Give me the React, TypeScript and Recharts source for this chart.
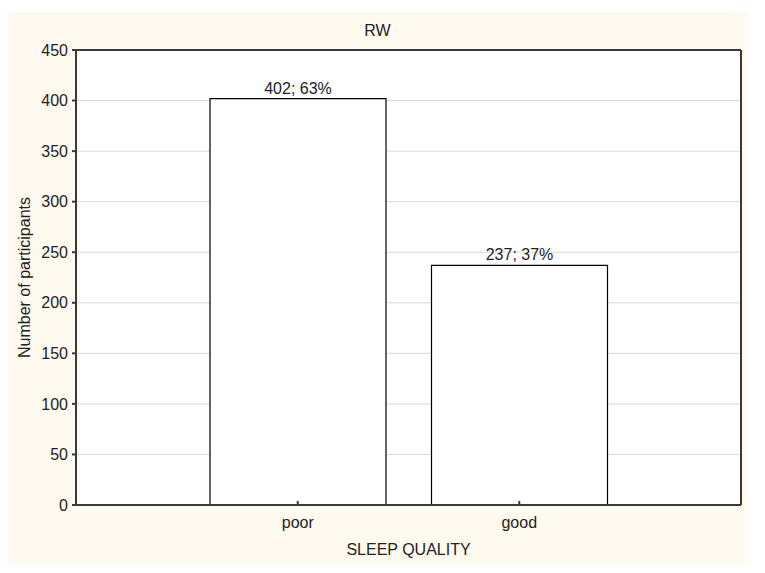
import React from 'react';
import { ComposedChart, Bar, XAxis, YAxis, CartesianGrid, LabelList, Label } from 'recharts';

const categories = ['poor', 'good'];
const counts = [402, 237];
const percents = [63, 37];
const yTicks = [0, 50, 100, 150, 200, 250, 300, 350, 400, 450];

const data = categories.map((c, i) => ({ name: c, value: counts[i], pct: percents[i] }));

const FONT = '"Liberation Sans", Arial, sans-serif';
const AXIS = '#3a3a3a';
const FS = 16;

export default function App() {
  return (
    <div style={{ position: 'relative', marginTop: 4, width: 739, height: 551, background: '#FFFAF0', fontFamily: FONT }}>
      <div style={{ position: 'absolute', left: 0, width: 739, top: 10, lineHeight: '18px', textAlign: 'center', fontSize: FS, color: '#222', fontFamily: FONT }}>RW</div>
      <ComposedChart
        width={739}
        height={551}
        data={data}
        margin={{ top: 37, right: 6, bottom: 0, left: 0 }}
        style={{ position: 'absolute', left: 0, top: 0 }}
      >
        <CartesianGrid vertical={false} stroke="#d9d9d9" fill="#ffffff" />
        <XAxis
          dataKey="name"
          type="category"
          padding={{ left: 111, right: 111 }}
          height={58}
          stroke={AXIS}
          strokeWidth={2}
          tickSize={-4}
          tickMargin={16}
          tick={{ fill: '#222', fontSize: FS, fontFamily: FONT }}
        >
          <Label
            content={({ viewBox }: any) => (
              <text x={viewBox.x + viewBox.width / 2} y={viewBox.y + 50} textAnchor="middle" fill="#222" fontSize={FS} fontFamily={FONT}>
                SLEEP QUALITY
              </text>
            )}
          />
        </XAxis>
        <XAxis xAxisId="top" orientation="top" dataKey="name" height={1} stroke={AXIS} strokeWidth={2} tick={false} tickLine={false} />
        <YAxis
          domain={[0, 450]}
          ticks={yTicks}
          width={68}
          stroke={AXIS}
          strokeWidth={2}
          tickSize={4}
          tickMargin={4}
          tick={{ fill: '#222', fontSize: FS, fontFamily: FONT }}
          interval={0}
        >
          <Label
            content={({ viewBox }: any) => {
              const cx = 16;
              const cy = viewBox.y + viewBox.height / 2;
              return (
                <text x={cx} y={cy} transform={`rotate(-90, ${cx}, ${cy})`} textAnchor="middle" dominantBaseline="central" fill="#222" fontSize={FS} fontFamily={FONT}>
                  Number of participants
                </text>
              );
            }}
          />
        </YAxis>
        <YAxis
          yAxisId="right"
          orientation="right"
          domain={[0, 450]}
          ticks={yTicks}
          width={1}
          mirror
          stroke={AXIS}
          strokeWidth={2}
          tickSize={3}
          tickFormatter={() => ''}
          interval={0}
        />
        <Bar dataKey="value" fill="#ffffff" stroke="#000000" strokeWidth={1.2} barSize={176} isAnimationActive={false}>
          <LabelList
            dataKey="value"
            position="top"
            content={({ x, y, width, index }: any) => (
              <text x={x + width / 2} y={y - 5} textAnchor="middle" fill="#222" fontSize={FS} fontFamily={FONT}>
                {`${counts[index]}; ${percents[index]}%`}
              </text>
            )}
          />
        </Bar>
      </ComposedChart>
    </div>
  );
}
